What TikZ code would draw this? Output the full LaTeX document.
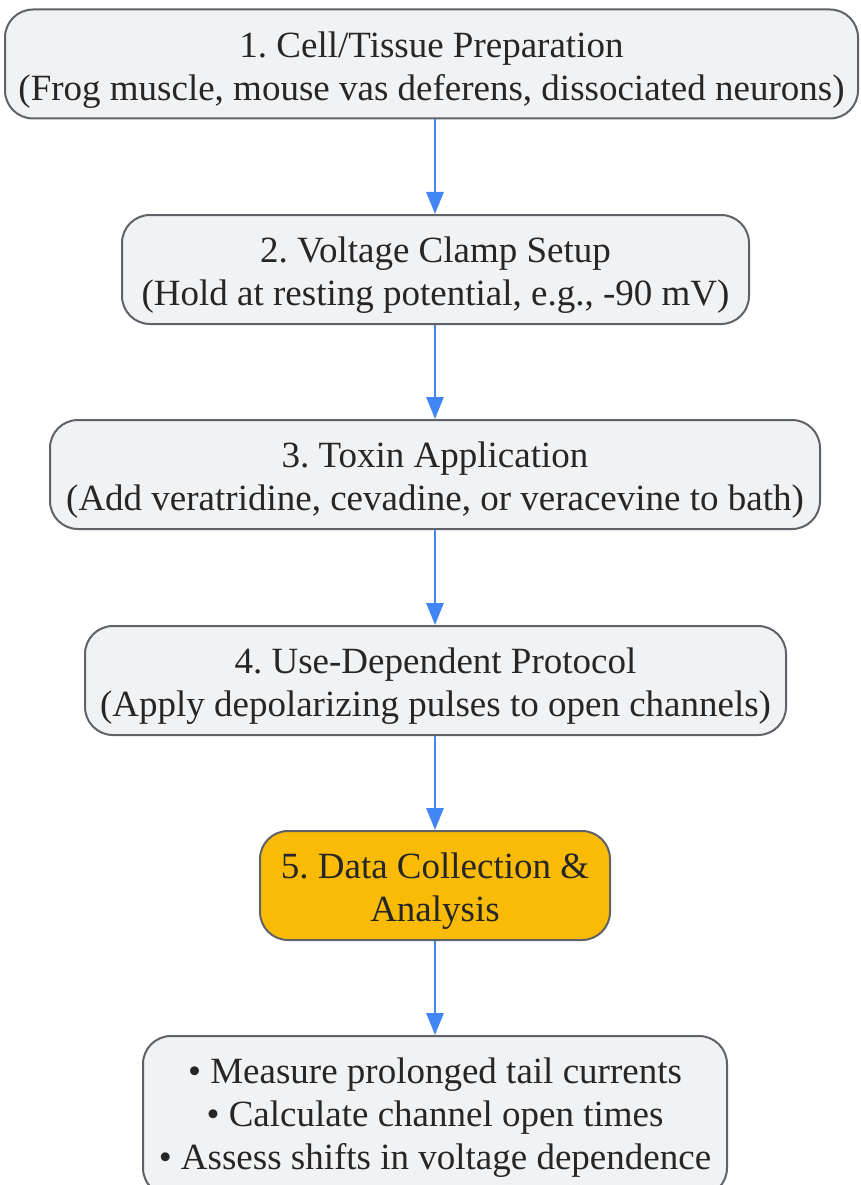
\documentclass[tikz,border=0pt]{standalone}
\usepackage{fontspec}
\setmainfont{Liberation Serif}
\usetikzlibrary{arrows.meta}
\definecolor{boxgray}{HTML}{F1F2F4}
\definecolor{edgegray}{HTML}{5F6368}
\definecolor{flowblue}{HTML}{4285F4}
\definecolor{stepgold}{HTML}{F9BB06}
\newcommand{\lift}[1][37pt]{\rule{0pt}{#1}}
\tikzset{
  stage/.style={draw=edgegray,fill=boxgray,line width=2pt,rounded corners=28pt,align=center,
    inner xsep=10pt,inner ysep=4pt,minimum height=109pt,text=black!85,
    font=\fontsize{37}{43}\selectfont\frenchspacing},
  flow/.style={draw=flowblue,line width=2.8pt,-{Triangle[length=22pt,width=17pt]}}
}
\begin{document}
\begin{tikzpicture}[x=1pt,y=1pt]
  \useasboundingbox (0,0) rectangle (860,-1185);
  \node[stage,minimum width=853pt] (prep) at (431.5,-64) {\lift 1. Cell/Tissue Preparation\\(Frog muscle, mouse vas deferens, dissociated neurons)};
  \node[stage,minimum width=627pt] (clamp) at (435.5,-269.5) {\lift 2. Voltage Clamp Setup\\(Hold at resting potential, e.g., -90 mV)};
  \node[stage,minimum width=770pt] (toxin) at (435,-474.5) {\lift 3. Toxin Application\\(Add veratridine, cevadine, or veracevine to bath)};
  \node[stage,minimum width=701pt] (pulse) at (435.5,-680.5) {\lift 4. Use-Dependent Protocol\\(Apply depolarizing pulses to open channels)};
  \node[stage,minimum width=350pt,fill=stepgold] (data) at (435,-885.5) {\lift 5. Data Collection \&\\Analysis};
  \node[stage,minimum width=584pt,minimum height=160pt] (results) at (435,-1116) {\lift[29pt]• Measure prolonged tail currents\\• Calculate channel open times\\• Assess shifts in voltage dependence};
  % connectors
  \draw[flow] (prep.south -| data) -- (clamp.north -| data);
  \draw[flow] (clamp.south -| data) -- (toxin.north -| data);
  \draw[flow] (toxin.south -| data) -- (pulse.north -| data);
  \draw[flow] (pulse.south -| data) -- (data);
  \draw[flow] (data) -- (results);
\end{tikzpicture}
\end{document}
